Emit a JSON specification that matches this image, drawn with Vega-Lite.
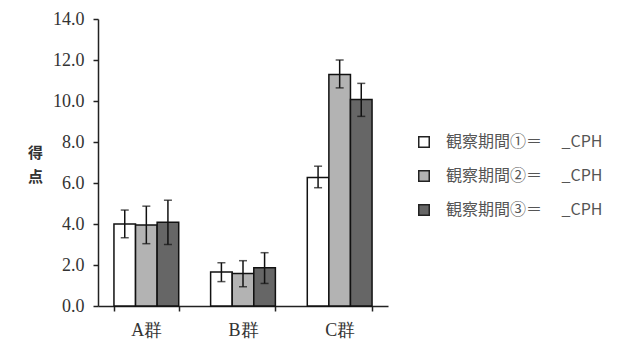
{
  "$schema": "https://vega.github.io/schema/vega-lite/v6.json",
  "width": 290,
  "height": 287,
  "autosize": "none",
  "padding": {"left": 98, "top": 19, "right": 234, "bottom": 47},
  "background": "white",
  "config": {
    "view": {"stroke": null},
    "axis": {"labelFont": "serif", "labelFontSize": 18, "labelColor": "#333",
      "domainColor": "#222", "domainWidth": 1.5, "tickColor": "#222", "tickWidth": 1.5, "tickSize": 5, "grid": false}
  },
  "data": {"values": [
    {"group": "A群", "period": "観察期間①＝　 _CPH", "mean": 4.0, "lo": 3.33, "hi": 4.68},
    {"group": "A群", "period": "観察期間②＝　 _CPH", "mean": 3.95, "lo": 3.04, "hi": 4.87},
    {"group": "A群", "period": "観察期間③＝　 _CPH", "mean": 4.09, "lo": 3.0, "hi": 5.16},
    {"group": "B群", "period": "観察期間①＝　 _CPH", "mean": 1.66, "lo": 1.19, "hi": 2.11},
    {"group": "B群", "period": "観察期間②＝　 _CPH", "mean": 1.58, "lo": 0.94, "hi": 2.21},
    {"group": "B群", "period": "観察期間③＝　 _CPH", "mean": 1.87, "lo": 1.1, "hi": 2.6},
    {"group": "C群", "period": "観察期間①＝　 _CPH", "mean": 6.27, "lo": 5.77, "hi": 6.82},
    {"group": "C群", "period": "観察期間②＝　 _CPH", "mean": 11.29, "lo": 10.64, "hi": 12.0},
    {"group": "C群", "period": "観察期間③＝　 _CPH", "mean": 10.07, "lo": 9.25, "hi": 10.86}
  ]},
  "encoding": {
    "x": {"field": "group", "type": "nominal", "sort": null,
      "scale": {"paddingInner": 0.33, "paddingOuter": 0.165},
      "axis": {"title": null, "labelAngle": 0, "tickBand": "extent", "labelPadding": 10}},
    "xOffset": {"field": "period", "type": "nominal", "sort": null},
    "y": {"type": "quantitative"}
  },
  "layer": [
    {
      "mark": {"type": "bar", "stroke": "#111", "strokeWidth": 1.5},
      "encoding": {
        "y": {"field": "mean", "type": "quantitative",
          "scale": {"domain": [0, 14], "nice": false},
          "axis": {"values": [0, 2, 4, 6, 8, 10, 12, 14], "format": ".1f", "labelPadding": 9,
            "title": ["得", "点"], "titleAngle": 0, "titleFont": "Noto Sans CJK JP", "titleFontSize": 15,
            "titleFontWeight": "bold", "titleColor": "#333", "titleX": -63, "titleY": 133, "titleAlign": "center",
            "titleBaseline": "middle", "titleLineHeight": 24}},
        "fill": {"field": "period", "type": "nominal", "sort": null,
          "scale": {"range": ["#ffffff", "#b3b3b3", "#666666"]},
          "legend": {"title": null, "orient": "none", "legendX": 318, "legendY": 115,
            "symbolType": "square", "symbolSize": 110, "symbolStrokeColor": "#222", "symbolStrokeWidth": 1.5,
            "labelFont": "Noto Sans CJK JP", "labelFontSize": 16, "labelColor": "#555", "rowPadding": 16,
            "labelOffset": 14}}
      }
    },
    {
      "mark": {"type": "rule", "color": "#111", "strokeWidth": 1.5},
      "encoding": {"y": {"field": "lo", "type": "quantitative"}, "y2": {"field": "hi"}}
    },
    {
      "mark": {"type": "tick", "color": "#111", "thickness": 1.5, "size": 8},
      "encoding": {"y": {"field": "lo", "type": "quantitative"}}
    },
    {
      "mark": {"type": "tick", "color": "#111", "thickness": 1.5, "size": 8},
      "encoding": {"y": {"field": "hi", "type": "quantitative"}}
    }
  ]
}
